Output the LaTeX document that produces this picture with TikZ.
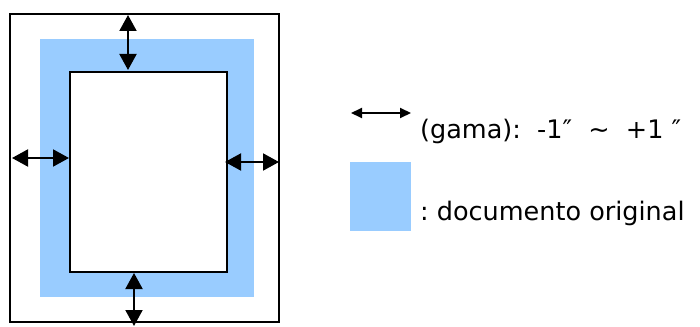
\documentclass[tikz,border=0pt]{standalone}
\usepackage{fontspec}
\setmainfont{DejaVu Sans}
\usetikzlibrary{arrows.meta}
\definecolor{docblue}{HTML}{99CCFF}
\begin{document}
\begin{tikzpicture}[x=1pt,y=-1pt,
  frame/.style={draw=black,line width=2pt},
  bigarrow/.style={line width=2pt,{Triangle[length=16pt,width=17pt]}-{Triangle[length=16pt,width=17pt]}},
  smallarrow/.style={line width=2pt,{Triangle[length=11pt,width=10pt]}-{Triangle[length=11pt,width=10pt]}},
  legtext/.style={anchor=base west,inner sep=0pt,font=\fontsize{25.5}{30}\selectfont}]
\useasboundingbox (0,0) rectangle (700,326);
% outer page
\draw[frame] (10,14) rectangle (279,322);
% blue area
\fill[docblue] (40,39) rectangle (254,297);
% inner page
\draw[frame,fill=white] (70,72) rectangle (227,272);
% arrow endpoints
\coordinate (t1) at (128,15); \coordinate (t2) at (128,70);
\coordinate (l1) at (12,158); \coordinate (l2) at (69,158);
\coordinate (r1) at (225,162); \coordinate (r2) at (279,162);
\coordinate (b1) at (134,273); \coordinate (b2) at (134,326);
\draw[bigarrow] (t1) -- (t2);
\draw[bigarrow] (l1) -- (l2);
\draw[bigarrow] (r1) -- (r2);
\draw[bigarrow] (b1) -- (b2);
% legend
\coordinate (a1) at (351,113); \coordinate (a2) at (411,113);
\draw[smallarrow] (a1) -- (a2);
\node[legtext] (gama) at (420,138) {(gama):\ \ -1″\ \ \textasciitilde\ \ +1 ″};
\fill[docblue] (350,162) rectangle (411,231);
\node[legtext] (doc) at (420,220) {:\ documento original};
\end{tikzpicture}
\end{document}
